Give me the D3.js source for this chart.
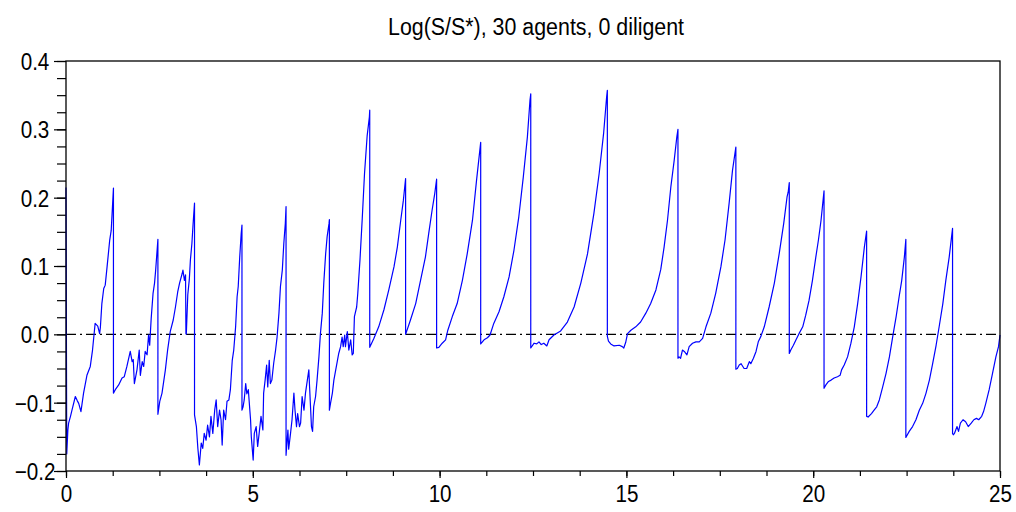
<!DOCTYPE html>
<html>
<head>
<meta charset="utf-8">
<script src="https://cdn.jsdelivr.net/npm/d3@7"></script>
<style>
  body { margin: 0; background: #fff; }
  svg text { font-family: "Liberation Sans", Arial, sans-serif; fill: #000; }
</style>
</head>
<body>
<svg id="chart" width="1016" height="512"></svg>
<script>
const titleText = "Log(S/S*), 30 agents, 0 diligent";
const xTickValues = [0, 5, 10, 15, 20, 25];
const yTickValues = [-0.2, -0.1, 0.0, 0.1, 0.2, 0.3, 0.4];

// [time, log(S/S*)], one row per cycle (drop = same time twice)
const samples = [
  [0, 0.215], [0.02, -0.175], [0.05, -0.14], [0.07, -0.130], [0.12, -0.120], [0.16, -0.111], [0.25, -0.091], [0.30, -0.097], [0.34, -0.101], [0.40, -0.113], [0.47, -0.086], [0.56, -0.060], [0.65, -0.047], [0.71, -0.023], [0.78, 0.016], [0.85, 0.012], [0.90, 0.001], [0.92, 0.010], [0.96, 0.045], [1.01, 0.067], [1.05, 0.072], [1.10, 0.099], [1.17, 0.138], [1.21, 0.152], [1.27, 0.214],
  [1.27, -0.086], [1.32, -0.081], [1.41, -0.074], [1.50, -0.064], [1.56, -0.062], [1.63, -0.047], [1.72, -0.025], [1.77, -0.040], [1.80, -0.037], [1.83, -0.072], [1.90, -0.052], [1.96, -0.023], [1.99, -0.060], [2.04, -0.040], [2.08, -0.047], [2.12, -0.025], [2.17, -0.030], [2.21, -0.001], [2.24, -0.016], [2.28, 0.023], [2.33, 0.060], [2.37, 0.075], [2.40, 0.094], [2.46, 0.139],
  [2.46, -0.117], [2.51, -0.098], [2.57, -0.086], [2.66, -0.052], [2.72, -0.023], [2.79, 0.004], [2.87, 0.021], [2.93, 0.040], [2.99, 0.062], [3.04, 0.075], [3.11, 0.089], [3.13, 0.094], [3.17, 0.079], [3.20, 0.087], [3.21, 0.001], [3.22, 0.0], [3.26, 0.058], [3.30, 0.080], [3.33, 0.109], [3.37, 0.133], [3.40, 0.160], [3.44, 0.192],
  [3.44, -0.118], [3.49, -0.135], [3.53, -0.167], [3.57, -0.191], [3.62, -0.159], [3.66, -0.167], [3.70, -0.145], [3.75, -0.155], [3.79, -0.133], [3.84, -0.150], [3.88, -0.120], [3.93, -0.145], [3.98, -0.111], [4.02, -0.096], [4.06, -0.135], [4.11, -0.111], [4.15, -0.125], [4.18, -0.162], [4.22, -0.111], [4.27, -0.125], [4.31, -0.098], [4.36, -0.096], [4.40, -0.081], [4.45, -0.038], [4.49, -0.023], [4.54, 0.011], [4.58, 0.055], [4.61, 0.070], [4.65, 0.113], [4.69, 0.148], [4.71, 0.160],
  [4.71, -0.111], [4.74, -0.106], [4.77, -0.096], [4.81, -0.072], [4.84, -0.087], [4.88, -0.081], [4.94, -0.125], [4.96, -0.150], [5.01, -0.184], [5.04, -0.145], [5.09, -0.135], [5.13, -0.164], [5.17, -0.145], [5.22, -0.120], [5.27, -0.140], [5.29, -0.086], [5.33, -0.067], [5.37, -0.045], [5.40, -0.077], [5.44, -0.038], [5.47, -0.072], [5.51, -0.067], [5.56, -0.042], [5.61, -0.023], [5.65, -0.004], [5.70, 0.031], [5.74, 0.070], [5.79, 0.094], [5.83, 0.133], [5.87, 0.162], [5.89, 0.187],
  [5.89, -0.177], [5.94, -0.140], [5.96, -0.168], [6.01, -0.145], [6.05, -0.125], [6.10, -0.086], [6.13, -0.111], [6.17, -0.135], [6.20, -0.116], [6.25, -0.135], [6.28, -0.130], [6.32, -0.091], [6.37, -0.111], [6.41, -0.086], [6.46, -0.067], [6.50, -0.052], [6.52, -0.077], [6.57, -0.135], [6.60, -0.142], [6.63, -0.106], [6.68, -0.091], [6.72, -0.067], [6.77, -0.033], [6.81, 0.001], [6.86, 0.031], [6.90, 0.075], [6.95, 0.118], [6.99, 0.143], [7.04, 0.162], [7.05, 0.168],
  [7.05, -0.111], [7.08, -0.101], [7.13, -0.086], [7.17, -0.067], [7.21, -0.055], [7.26, -0.040], [7.30, -0.028], [7.35, -0.018], [7.39, -0.004], [7.42, -0.018], [7.46, -0.001], [7.48, -0.018], [7.53, 0.004], [7.57, -0.023], [7.62, -0.008], [7.66, -0.030], [7.69, -0.028], [7.72, 0.026], [7.78, 0.040], [7.81, 0.060], [7.87, 0.110], [7.93, 0.170], [7.99, 0.235], [8.06, 0.290], [8.12, 0.318], [8.13, 0.328],
  [8.13, -0.019], [8.24, -0.006], [8.37, 0.011], [8.51, 0.036], [8.64, 0.065], [8.78, 0.099], [8.87, 0.128], [8.96, 0.167], [9.03, 0.196], [9.09, 0.228],
  [9.09, 0.0], [9.22, 0.021], [9.36, 0.045], [9.49, 0.079], [9.62, 0.113], [9.71, 0.148], [9.80, 0.182], [9.87, 0.206], [9.92, 0.227],
  [9.92, -0.020], [9.98, -0.019], [10.07, -0.013], [10.16, -0.008], [10.22, 0.006], [10.34, 0.026], [10.47, 0.045], [10.61, 0.079], [10.74, 0.118], [10.88, 0.167], [10.99, 0.226], [11.10, 0.281],
  [11.10, -0.014], [11.19, -0.008], [11.28, -0.005], [11.35, -0.001], [11.45, 0.016], [11.59, 0.033], [11.72, 0.055], [11.86, 0.084], [11.99, 0.123], [12.12, 0.172], [12.24, 0.230], [12.35, 0.289], [12.42, 0.343], [12.44, 0.352],
  [12.44, -0.020], [12.53, -0.013], [12.60, -0.014], [12.66, -0.011], [12.72, -0.015], [12.79, -0.013], [12.87, -0.017], [12.93, -0.008], [13.06, -0.001], [13.24, 0.005], [13.42, 0.018], [13.60, 0.040], [13.78, 0.075], [13.96, 0.118], [14.13, 0.177], [14.27, 0.235], [14.39, 0.294], [14.47, 0.347], [14.49, 0.357],
  [14.49, -0.003], [14.52, -0.010], [14.58, -0.014], [14.67, -0.017], [14.81, -0.016], [14.89, -0.018], [14.93, -0.020], [14.98, -0.012], [15.03, 0.001], [15.12, 0.006], [15.25, 0.011], [15.38, 0.018], [15.52, 0.031], [15.65, 0.045], [15.79, 0.065], [15.92, 0.095], [16.01, 0.128], [16.10, 0.167], [16.19, 0.216], [16.28, 0.255], [16.35, 0.289], [16.38, 0.300],
  [16.38, -0.035], [16.41, -0.033], [16.45, -0.035], [16.50, -0.023], [16.55, -0.025], [16.62, -0.030], [16.68, -0.018], [16.77, -0.013], [16.86, -0.011], [16.95, -0.011], [17.04, -0.006], [17.13, 0.011], [17.26, 0.031], [17.39, 0.060], [17.53, 0.099], [17.64, 0.138], [17.75, 0.192], [17.84, 0.240], [17.93, 0.274],
  [17.93, -0.051], [17.97, -0.050], [18.02, -0.045], [18.07, -0.043], [18.15, -0.050], [18.22, -0.050], [18.29, -0.040], [18.33, -0.043], [18.40, -0.035], [18.47, -0.025], [18.53, -0.011], [18.60, -0.003], [18.69, 0.011], [18.82, 0.040], [18.96, 0.075], [19.09, 0.118], [19.21, 0.162], [19.30, 0.201], [19.33, 0.208], [19.36, 0.222],
  [19.36, -0.028], [19.40, -0.023], [19.47, -0.016], [19.54, -0.008], [19.62, 0.001], [19.72, 0.011], [19.80, 0.028], [19.89, 0.050], [19.98, 0.079], [20.07, 0.113], [20.14, 0.138], [20.21, 0.167], [20.29, 0.210],
  [20.29, -0.079], [20.34, -0.074], [20.41, -0.069], [20.48, -0.067], [20.56, -0.064], [20.65, -0.062], [20.72, -0.060], [20.76, -0.052], [20.83, -0.045], [20.92, -0.033], [21.01, -0.013], [21.10, 0.011], [21.19, 0.045], [21.28, 0.084], [21.37, 0.128], [21.43, 0.151],
  [21.43, -0.120], [21.47, -0.121], [21.56, -0.116], [21.63, -0.111], [21.70, -0.106], [21.77, -0.096], [21.86, -0.077], [21.95, -0.057], [22.04, -0.033], [22.13, -0.003], [22.22, 0.026], [22.30, 0.055], [22.37, 0.079], [22.44, 0.113], [22.48, 0.139],
  [22.48, -0.151], [22.57, -0.142], [22.66, -0.135], [22.75, -0.125], [22.84, -0.111], [22.93, -0.101], [23.02, -0.086], [23.11, -0.067], [23.20, -0.042], [23.29, -0.016], [23.38, 0.014], [23.47, 0.045], [23.55, 0.079], [23.64, 0.113], [23.73, 0.155],
  [23.73, -0.145], [23.75, -0.147], [23.78, -0.145], [23.85, -0.135], [23.89, -0.142], [23.94, -0.130], [24.01, -0.125], [24.08, -0.128], [24.15, -0.135], [24.23, -0.130], [24.30, -0.125], [24.37, -0.123], [24.43, -0.125], [24.51, -0.120], [24.56, -0.113], [24.62, -0.101], [24.71, -0.081], [24.80, -0.057], [24.89, -0.033], [24.96, -0.018], [25.0, -0.001]
];

const svg = d3.select("#chart");
const margin = { top: 61, right: 16, bottom: 41, left: 66 };
const width = 1016 - margin.left - margin.right;
const height = 512 - margin.top - margin.bottom;

const x = d3.scaleLinear().domain([0, 25]).range([0, width]);
const y = d3.scaleLinear().domain([-0.2, 0.4]).range([height, 0]);

const g = svg.append("g").attr("transform", `translate(${margin.left},${margin.top})`);

// minor ticks first, then majors with labels
g.append("g")
    .attr("transform", `translate(0,${height})`)
    .call(d3.axisBottom(x).tickValues(d3.range(0, 25.01, 1.25)).tickSize(5).tickFormat(""))
    .call(a => a.select(".domain").remove());
g.append("g")
    .call(d3.axisLeft(y).tickValues(d3.range(-0.2, 0.401, 0.025)).tickSize(9).tickFormat(""))
    .call(a => a.select(".domain").remove());

const xAxis = g.append("g")
    .attr("transform", `translate(0,${height})`)
    .call(d3.axisBottom(x).tickValues(xTickValues).tickSize(7).tickFormat(d3.format("d")));
xAxis.select(".domain").remove();
xAxis.selectAll("text")
    .attr("y", 14)
    .attr("dy", "0.71em")
    .attr("transform", "scale(0.86,1)")
    .style("font-size", "24px");

const yAxis = g.append("g")
    .call(d3.axisLeft(y).tickValues(yTickValues).tickSize(12).tickFormat(d3.format(".1f")));
yAxis.select(".domain").remove();
yAxis.selectAll("text")
    .attr("x", 0)
    .attr("dy", "0.35em")
    .attr("text-anchor", "middle")
    .attr("transform", "translate(-31,0) scale(0.86,1)")
    .style("font-size", "24px");

g.selectAll(".tick line").attr("stroke", "#000").attr("stroke-width", 1.2);

// zero reference line
g.append("line")
    .attr("x1", 0).attr("x2", width)
    .attr("y1", y(0)).attr("y2", y(0))
    .attr("stroke", "#000")
    .attr("stroke-width", 1.3)
    .attr("stroke-dasharray", "10,4,2,4");

const line = d3.line()
    .x(d => x(d[0]))
    .y(d => y(d[1]));

g.append("path")
    .datum(samples)
    .attr("fill", "none")
    .attr("stroke", "#0000ff")
    .attr("stroke-width", 1.2)
    .attr("stroke-linejoin", "round")
    .attr("d", line);

// frame
g.append("rect")
    .attr("width", width)
    .attr("height", height)
    .attr("fill", "none")
    .attr("stroke", "#000")
    .attr("stroke-width", 1.3);

svg.append("text")
    .attr("x", 536)
    .attr("y", 35)
    .attr("text-anchor", "middle")
    .attr("textLength", 296)
    .attr("lengthAdjust", "spacingAndGlyphs")
    .style("font-size", "23px")
    .text(titleText);
</script>
</body>
</html>
